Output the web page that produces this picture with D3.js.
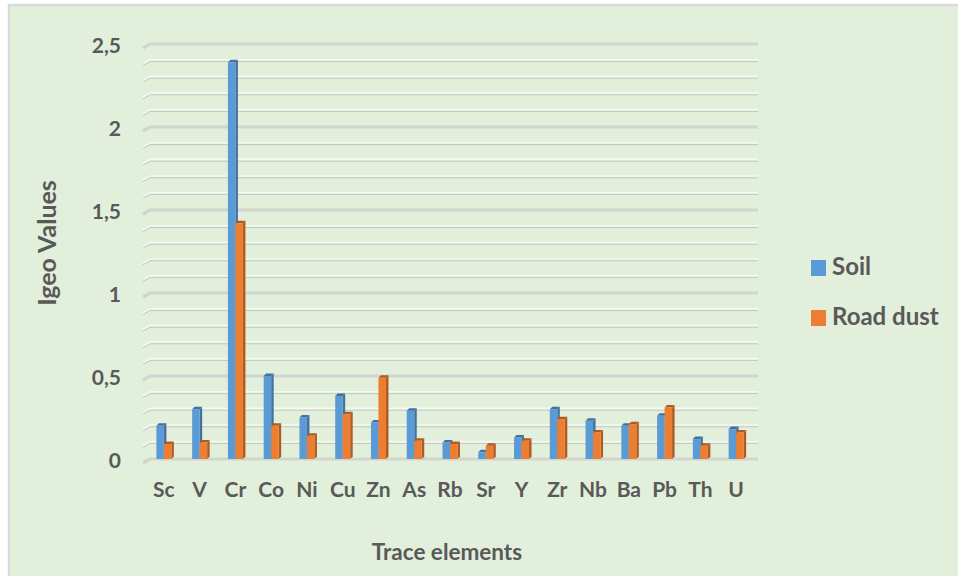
<!DOCTYPE html>
<html>
<head>
<meta charset="utf-8">
<script src="https://cdn.jsdelivr.net/npm/d3@7"></script>
<style>
  html, body { margin: 0; padding: 0; background: #ffffff; }
  svg { display: block; }
  text { font-family: Lato, "Open Sans", sans-serif; font-weight: 700; fill: #595959; }
</style>
</head>
<body>
<svg id="chart" width="958" height="576"></svg>
<script>
// Igeo values of trace elements in soil and road dust
const elements = ["Sc", "V", "Cr", "Co", "Ni", "Cu", "Zn", "As", "Rb", "Sr", "Y", "Zr", "Nb", "Ba", "Pb", "Th", "U"];
const soil     = [0.20, 0.30, 2.39, 0.50, 0.25, 0.38, 0.22, 0.29, 0.10, 0.04, 0.13, 0.30, 0.23, 0.20, 0.26, 0.12, 0.18];
const roadDust = [0.09, 0.10, 1.42, 0.20, 0.14, 0.27, 0.49, 0.11, 0.09, 0.08, 0.11, 0.24, 0.16, 0.21, 0.31, 0.08, 0.16];
const seriesNames = ["Soil", "Road dust"];
const majorTicks = [0, 0.5, 1, 1.5, 2, 2.5];
const tickLabels = ["0", "0,5", "1", "1,5", "2", "2,5"];

const series = [
  { name: seriesNames[0], values: soil, front: "#5b9bd5", side: "#41719c" },
  { name: seriesNames[1], values: roadDust, front: "#ed7d31", side: "#ae5a21" }
];

const svg = d3.select("#chart");
const W = 958, H = 576;

// chart area background
svg.append("rect").attr("x", 9).attr("y", 5).attr("width", W).attr("height", H)
  .attr("fill", "#e2efda").attr("stroke", "#d9d9d9").attr("stroke-width", 2.5);

const plot = { left: 146, right: 754, top: 44, bottom: 459 };
const y = d3.scaleLinear().domain([0, 2.5]).range([plot.bottom, plot.top]);
const x = d3.scaleBand().domain(elements).range([plot.left, plot.right]);

// gridlines with a short perspective stub on the left
const gridX0 = 150, gridX1 = 758, stubX = 143, stubDy = 4;
const minorTicks = d3.range(0, 26).map(i => i / 10);
const grid = svg.append("g");
minorTicks.forEach(v => {
  const isMajor = majorTicks.some(m => Math.abs(m - v) < 1e-9);
  const yy = y(v);
  if (isMajor) {
    grid.append("path")
      .attr("d", `M${stubX},${yy + stubDy} L${gridX0},${yy} L${gridX1},${yy}`)
      .attr("fill", "none").attr("stroke", "#d2d4cf").attr("stroke-width", 3.2);
  } else {
    grid.append("path")
      .attr("d", `M${stubX},${yy + stubDy + 1} L${gridX0},${yy + 1} L${gridX1},${yy + 1}`)
      .attr("fill", "none").attr("stroke", "#c3c5c0").attr("stroke-width", 1);
    grid.append("path")
      .attr("d", `M${stubX},${yy + stubDy - 0.8} L${gridX0},${yy - 0.8} L${gridX1},${yy - 0.8}`)
      .attr("fill", "none").attr("stroke", "#f6f8f3").attr("stroke-width", 1.6);
  }
});

// y tick labels
svg.append("g").selectAll("text").data(majorTicks).join("text")
  .attr("x", 121).attr("y", (d) => y(d) + 4)
  .attr("text-anchor", "end").attr("dominant-baseline", "middle")
  .attr("font-size", 21)
  .text((d, i) => tickLabels[i]);

// bars with a small 3-D side and top
const barW = 7.5, depth = 2.5;
const bars = svg.append("g");
series.forEach((s, si) => {
  const g = bars.append("g");
  elements.forEach((el, i) => {
    const cx = x(el) + x.bandwidth() / 2;
    const x0 = cx - barW + si * barW;
    const y0 = y(0), y1 = y(s.values[i]);
    g.append("path")
      .attr("d", `M${x0 + barW},${y1} L${x0 + barW + depth},${y1 - depth} L${x0 + barW + depth},${y0 - depth} L${x0 + barW},${y0} Z`)
      .attr("fill", s.side);
    g.append("path")
      .attr("d", `M${x0},${y1} L${x0 + depth},${y1 - depth} L${x0 + barW + depth},${y1 - depth} L${x0 + barW},${y1} Z`)
      .attr("fill", s.side);
    g.append("rect")
      .attr("x", x0).attr("y", y1).attr("width", barW).attr("height", y0 - y1)
      .attr("fill", s.front);
  });
});

// category labels
svg.append("g").selectAll("text").data(elements).join("text")
  .attr("x", d => x(d) + x.bandwidth() / 2)
  .attr("y", 492)
  .attr("text-anchor", "middle").attr("dominant-baseline", "middle")
  .attr("font-size", 21)
  .text(d => d);

// axis titles
svg.append("text")
  .attr("transform", "translate(50,243) rotate(-90)")
  .attr("text-anchor", "middle").attr("dominant-baseline", "middle")
  .attr("font-size", 25)
  .text("Igeo Values");

svg.append("text")
  .attr("x", 447).attr("y", 554)
  .attr("text-anchor", "middle").attr("dominant-baseline", "middle")
  .attr("font-size", 22.5)
  .text("Trace elements");

// legend
const legend = svg.append("g");
series.forEach((s, i) => {
  const ly = 268 + i * 50;
  legend.append("rect").attr("x", 811).attr("y", ly - 8).attr("width", 15).attr("height", 16).attr("fill", s.front);
  legend.append("text").attr("x", 832).attr("y", ly + 1)
    .attr("dominant-baseline", "middle").attr("font-size", 24)
    .text(s.name);
});
</script>
</body>
</html>
